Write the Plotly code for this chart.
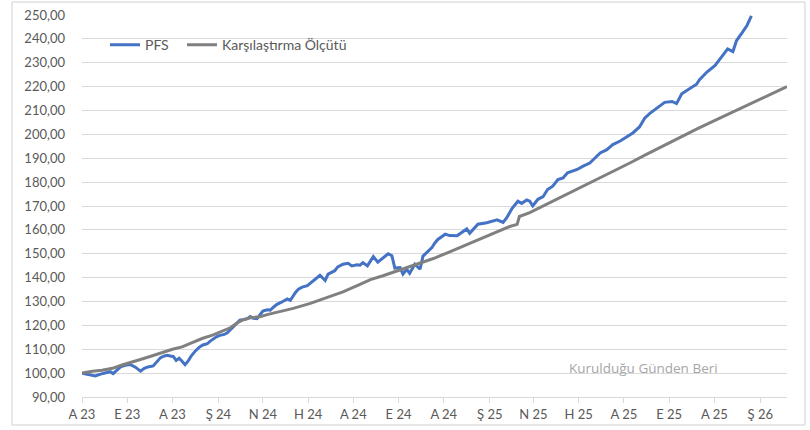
import pandas as pd
import plotly.graph_objects as go

start_date = "2023-08-01"

# PFS: days since start, index value
pfs_days = [0, 6, 11, 18, 25, 31, 38, 42, 48, 52, 58, 65, 72, 79, 84, 89, 96, 101, 106, 111,
            115, 119, 123, 127, 131, 135, 139, 143, 147, 153, 158, 163, 169, 173, 177, 182, 186, 192, 196, 200,
            204, 209, 213, 219, 223, 227, 231, 236, 240, 244, 250, 254, 259, 263, 269, 273, 277, 281, 283, 288,
            292, 297, 304, 310, 317, 321, 328, 332, 341, 345, 352, 359, 364, 371, 375, 379, 385, 389, 393, 399,
            406, 413, 418, 422, 429, 433, 438, 442, 449, 456, 460, 467, 472, 476, 480, 490, 496, 506, 514, 519,
            523, 534, 546, 560, 568, 573, 580, 588, 593, 600, 604, 608, 615, 622, 628, 635, 642, 649, 655, 668,
            676, 685, 692, 699, 708, 716, 726, 743, 752, 759, 766, 775, 786, 796, 802, 809, 820, 829, 833, 843,
            854, 863, 871, 878, 883, 891, 897, 903]
pfs_values = [100.0, 99.6, 99.2, 98.8, 99.6, 100.2, 100.6, 99.8, 101.5, 102.6, 103.3, 103.6, 102.5, 100.8, 102.0, 102.6, 103.0, 104.8, 106.5, 107.2,
              107.5, 107.2, 107.0, 105.3, 106.2, 105.0, 103.5, 105.0, 107.0, 109.3, 110.8, 111.8, 112.3, 113.4, 114.4, 115.3, 115.8, 116.2, 116.9, 118.2,
              119.2, 121.0, 122.2, 122.5, 122.8, 123.7, 123.0, 122.8, 124.6, 126.0, 126.5, 126.4, 127.8, 128.8, 129.7, 130.5, 131.1, 130.5, 131.5, 133.8,
              135.2, 136.0, 136.6, 138.1, 139.7, 141.0, 138.8, 141.5, 142.9, 144.5, 145.6, 146.0, 144.9, 145.4, 145.2, 146.3, 144.9, 146.8, 148.8, 146.5,
              148.2, 150.0, 149.2, 144.0, 144.2, 141.5, 143.5, 141.8, 145.6, 143.5, 149.0, 151.3, 152.6, 154.5, 156.0, 158.2, 157.6, 157.5, 159.3, 160.4,
              158.6, 162.4, 163.0, 164.2, 163.1, 165.1, 168.9, 172.0, 171.1, 172.5, 172.0, 170.0, 172.8, 173.9, 176.9, 178.3, 181.1, 181.8, 183.9, 185.3,
              186.7, 188.0, 190.1, 192.2, 193.6, 195.7, 197.2, 200.6, 203.1, 206.8, 208.8, 210.8, 213.4, 213.8, 212.9, 217.0, 219.2, 221.0, 222.9, 226.1,
              228.9, 232.4, 235.8, 234.7, 239.3, 242.8, 245.6, 249.6]

# Karşılaştırma Ölçütü (benchmark)
bm_days = [0, 14, 27, 41, 54, 68, 81, 95, 108, 122, 135, 149, 162, 177, 186, 200, 209, 217, 227, 240,
           251, 263, 285, 308, 331, 352, 375, 389, 406, 425, 452, 474, 496, 519, 536, 550, 564, 577, 587, 590,
           604, 627, 649, 672, 694, 716, 739, 762, 784, 806, 829, 851, 874, 897, 918, 941, 951]
bm_values = [100.0, 100.8, 101.2, 102.0, 103.4, 104.6, 105.9, 107.3, 108.7, 110.0, 111.0, 112.8, 114.5, 116.0, 117.2, 119.0, 121.0, 122.3, 123.2, 123.6,
             124.6, 125.5, 127.1, 129.2, 131.8, 134.0, 137.2, 139.2, 140.8, 142.9, 145.6, 148.0, 150.8, 153.8, 156.3, 158.0, 159.8, 161.4, 162.3, 165.6,
             167.2, 170.7, 174.0, 177.5, 181.0, 184.3, 188.0, 191.7, 195.2, 198.7, 202.2, 205.4, 208.7, 212.0, 215.3, 218.6, 220.0]

tick_dates = ["2023-08-01", "2023-10-01", "2023-12-01", "2024-02-01", "2024-04-01", "2024-06-01",
              "2024-08-01", "2024-10-01", "2024-12-01", "2025-02-01", "2025-04-01", "2025-06-01",
              "2025-08-01", "2025-10-01", "2025-12-01", "2026-02-01"]
tick_labels = ["A 23", "E 23", "A 23", "Ş 24", "N 24", "H 24", "A 24", "E 24", "A 24", "Ş 25",
               "N 25", "H 25", "A 25", "E 25", "A 25", "Ş 26"]

series_names = ["PFS", "Karşılaştırma Ölçütü"]
annotation_text = "Kuruldu\u011fu G\u00fcnden Beri"

t0 = pd.Timestamp(start_date)
pfs_x = [t0 + pd.Timedelta(days=d) for d in pfs_days]
bm_x = [t0 + pd.Timedelta(days=d) for d in bm_days]
x_end = t0 + pd.Timedelta(days=951)

fig = go.Figure()
fig.add_trace(go.Scatter(x=pfs_x, y=pfs_values, mode="lines", name=series_names[0],
                         line=dict(color="#4472C4", width=3), legend="legend"))
fig.add_trace(go.Scatter(x=bm_x, y=bm_values, mode="lines", name=series_names[1],
                         line=dict(color="#808080", width=3), legend="legend2"))

legend_style = dict(orientation="h", y=0.921, xanchor="left", yanchor="middle",
                    font=dict(family="Lato", size=14, color="#595959"),
                    bgcolor="rgba(0,0,0,0)", itemwidth=30)

fig.update_layout(
    template="none",
    width=810, height=430,
    margin=dict(l=82, r=23, t=15, b=33, autoexpand=False),
    paper_bgcolor="white", plot_bgcolor="white",
    separators=",.",
    font=dict(family="Lato", size=13, color="#595959"),
    showlegend=True,
    legend=dict(x=0.0326, **legend_style),
    legend2=dict(x=0.1418, **legend_style),
    xaxis=dict(type="date", range=[t0, x_end], tickmode="array", tickvals=tick_dates,
               ticktext=tick_labels, showgrid=False, showline=True, linecolor="#d9d9d9",
               linewidth=1, ticks="outside", ticklen=5, tickcolor="#d9d9d9",
               ticklabelstandoff=0,
               tickfont=dict(family="Lato", size=13, color="#595959"), zeroline=False),
    yaxis=dict(range=[90, 250], dtick=10, tick0=90, tickformat=".2f", showgrid=True,
               gridcolor="#d9d9d9", gridwidth=1, zeroline=False, showline=False,
               ticks="", ticklabelstandoff=16,
               tickfont=dict(family="Lato", size=13, color="#595959")),
    shapes=[dict(type="rect", xref="paper", yref="paper", x0=-0.0993, x1=1.0255,
                 y0=-0.0733, y1=1.034, line=dict(color="#d0d0d0", width=1), layer="above")],
    annotations=[dict(text=annotation_text, xref="paper", yref="paper", x=0.797, y=0.076,
                      xanchor="center", yanchor="middle", showarrow=False,
                      font=dict(family="Open Sans", size=13.5, color="#a6a6a6"))],
)

fig.write_html("out.html", config={"displayModeBar": False},
               post_script="document.body.style.margin='0';document.body.style.padding='0';")
